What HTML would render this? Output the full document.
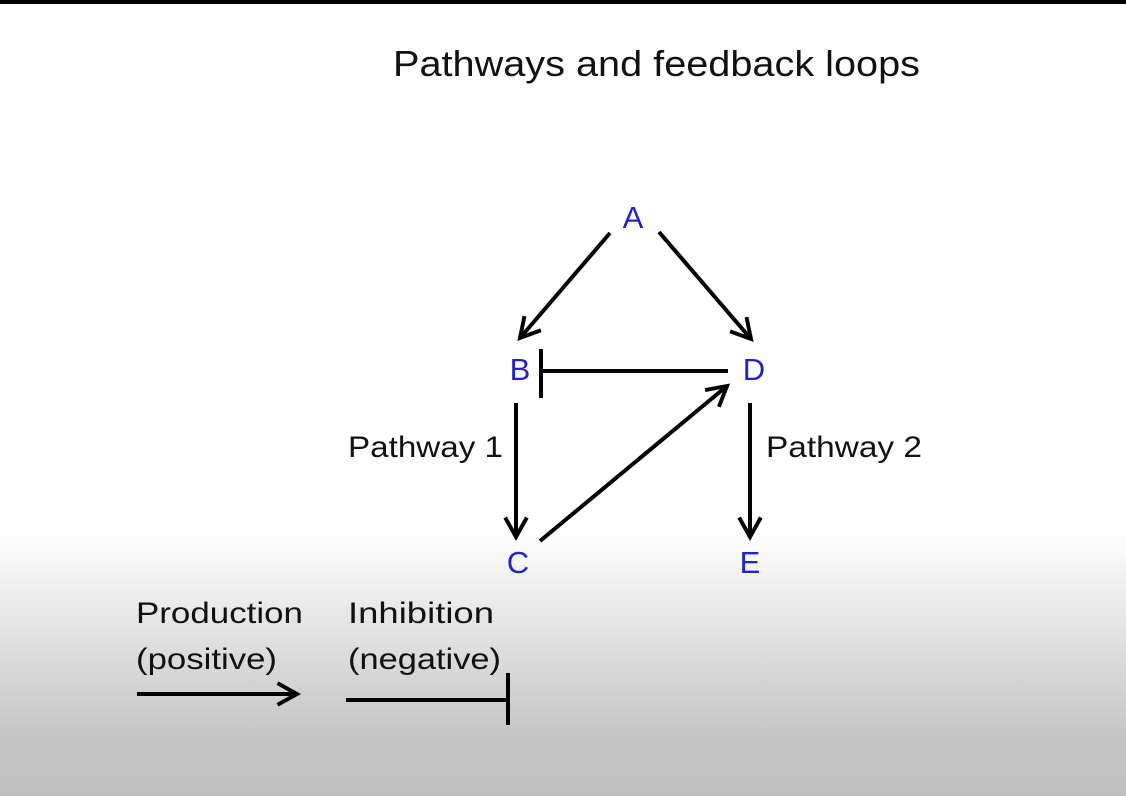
<!DOCTYPE html>
<html><head><style>
html,body{margin:0;padding:0}
body{width:1126px;height:796px;overflow:hidden;position:relative;
background:linear-gradient(to bottom,#fff 0px,#fff 530px,#c4c4c4 740px,#c0c0c0 796px);
font-family:"Liberation Sans",sans-serif}
.bar{position:absolute;left:0;top:0;width:1126px;height:4px;background:#000}
svg{position:absolute;left:0;top:0}
</style></head><body>
<div class="bar"></div>
<svg width="1126" height="796" viewBox="0 0 1126 796">
<defs>
<marker id="ar" viewBox="0 0 12 12" refX="10" refY="6" markerWidth="6.5" markerHeight="6.5" orient="auto" markerUnits="strokeWidth">
<path d="M1,1 L10,6 L1,11" fill="none" stroke="#000" stroke-width="1.8"/>
</marker>
</defs>
<g font-family="Liberation Sans, sans-serif">
<text x="393" y="76" font-size="36" textLength="527" lengthAdjust="spacingAndGlyphs" fill="#111">Pathways and feedback loops</text>
<g fill="#2222cc" font-size="31" text-anchor="middle">
<text x="633" y="228">A</text>
<text x="520" y="380">B</text>
<text x="754" y="380">D</text>
<text x="518" y="573">C</text>
<text x="750" y="573">E</text>
</g>
<g fill="#111" font-size="30" lengthAdjust="spacingAndGlyphs">
<text x="348" y="457" textLength="155" lengthAdjust="spacingAndGlyphs">Pathway 1</text>
<text x="766" y="457" textLength="156" lengthAdjust="spacingAndGlyphs">Pathway 2</text>
<text x="136" y="623" textLength="167" lengthAdjust="spacingAndGlyphs">Production</text>
<text x="136" y="669" textLength="141" lengthAdjust="spacingAndGlyphs">(positive)</text>
<text x="348" y="623" textLength="146" lengthAdjust="spacingAndGlyphs">Inhibition</text>
<text x="348" y="669" textLength="153" lengthAdjust="spacingAndGlyphs">(negative)</text>
</g>
</g>
<g stroke="#000" stroke-width="4" fill="none">
<line x1="610" y1="233" x2="520" y2="338" marker-end="url(#ar)"/>
<line x1="659" y1="232" x2="751" y2="339" marker-end="url(#ar)"/>
<line x1="728" y1="371" x2="541" y2="371"/>
<line x1="541" y1="349" x2="541" y2="398"/>
<line x1="516" y1="403" x2="516" y2="537" marker-end="url(#ar)"/>
<line x1="540" y1="541" x2="727" y2="386" marker-end="url(#ar)"/>
<line x1="750" y1="403" x2="750" y2="537" marker-end="url(#ar)"/>
<line x1="137" y1="694" x2="297" y2="694" marker-end="url(#ar)"/>
<line x1="346" y1="700" x2="508" y2="700"/>
<line x1="508" y1="673" x2="508" y2="725"/>
</g>
</svg>
</body></html>
